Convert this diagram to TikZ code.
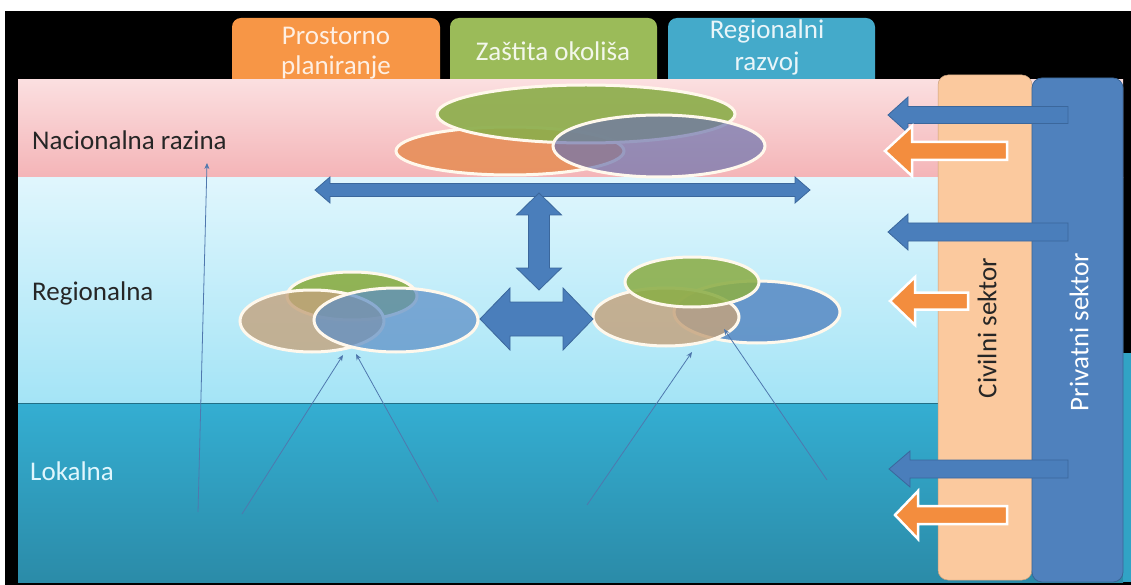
\documentclass[tikz,border=0pt]{standalone}
\usepackage{fontspec}
\setmainfont{Carlito}
\usetikzlibrary{shapes.geometric,arrows.meta}
\definecolor{boxorange}{HTML}{F79646}
\definecolor{boxgreen}{HTML}{9BBB59}
\definecolor{boxblue}{HTML}{44AACA}
\definecolor{pinktop}{HTML}{FBDFE0}
\definecolor{pinkbot}{HTML}{F4B4B7}
\definecolor{lbtop}{HTML}{E0F6FD}
\definecolor{lbbot}{HTML}{A4E4F6}
\definecolor{tealtop}{HTML}{34AED2}
\definecolor{tealbot}{HTML}{2B8BA8}
\definecolor{civil}{HTML}{FBC99E}
\definecolor{priv}{HTML}{4F81BD}
\definecolor{privline}{HTML}{3A6596}
\definecolor{barrow}{HTML}{4A7EBB}
\definecolor{barrowline}{HTML}{3B679C}
\definecolor{oarrow}{HTML}{F38D3E}
\definecolor{thin}{HTML}{4F78AE}
\definecolor{elline}{HTML}{FFF8EC}
\definecolor{natorange}{HTML}{E8915E}
\definecolor{natgreen}{HTML}{8DAE4C}
\definecolor{natpurple}{HTML}{6D74AE}
\definecolor{regtan}{HTML}{C4A27C}
\definecolor{reggreen}{HTML}{8CAE48}
\definecolor{regblue}{HTML}{5D8EC6}
\newcommand\secarrow[6]{% tipx headx tailx cy bodyhalf headhalf
  (#3,#4-#5) -- (#2,#4-#5) -- (#2,#4-#6) -- (#1,#4) -- (#2,#4+#6) -- (#2,#4+#5) -- (#3,#4+#5) -- cycle}
\begin{document}
\begin{tikzpicture}[x=1pt,y=-1pt,
  lbl/.style={font=\fontsize{27}{32}\selectfont, anchor=base west, inner sep=0pt},
  boxtxt/.style={font=\fontsize{27}{32}\selectfont, anchor=base, inner sep=0pt},
  ell/.style={ellipse, draw=elline, line width=3pt, inner sep=0pt},
  thinarrow/.style={draw=thin, line width=0.8pt, -{Stealth[length=6pt,width=5pt]}},
  bigarrow/.style={fill=barrow, draw=barrowline, line width=0.8pt, line join=miter},
  secblue/.style={fill=barrow, draw=barrowline, line width=0.8pt},
  secorange/.style={fill=oarrow, draw=white, line width=2.5pt, line join=miter}]
\useasboundingbox (0,0) rectangle (1131,585);
\fill[white] (0,0) rectangle (1131,585);
\fill[black] (5,11) rectangle (1131,585);
% top boxes
\fill[boxorange, rounded corners=9pt] (232,18) rectangle (440,110);
\fill[boxgreen, rounded corners=9pt] (450,18) rectangle (657,110);
\fill[boxblue, rounded corners=9pt] (668,18) rectangle (875,110);
\node[boxtxt, text=boxorange!15!white] (t1a) at (336,45) {Prostorno};
\node[boxtxt, text=boxorange!15!white] (t1b) at (336,75) {planiranje};
\node[boxtxt, text=boxgreen!12!white] (t2) at (553,61) {Zaštita okoliša};
\node[boxtxt, text=boxblue!12!white] (t3a) at (767,39) {Regionalni};
\node[boxtxt, text=boxblue!12!white] (t3b) at (767,71) {razvoj};
% bands
\shade[top color=pinktop, bottom color=pinkbot] (18,80) rectangle (1123,178);
\shade[top color=lbtop, bottom color=lbbot] (18,178) rectangle (1123,403);
\shade[top color=tealtop, bottom color=tealbot] (18,403) rectangle (1123,582);
\fill[tealtop!70!tealbot] (1123,353) rectangle (1131,582);
\draw[tealbot!80!black, line width=1pt] (18,403) -- (1123,403);
% level labels
\node[lbl, text=black!85] (lnat) at (32,150) {Nacionalna razina};
\node[lbl, text=black!85] (lreg) at (32,300) {Regionalna};
\node[lbl, text=lbtop] (llok) at (30,480) {Lokalna};
% national cluster
\node[ell, fill=natorange, fill opacity=0.95, minimum width=228pt, minimum height=48pt] (no) at (510,151) {};
\node[ell, fill=natgreen, fill opacity=0.92, minimum width=298pt, minimum height=58pt] (ng) at (586,114) {};
\node[ell, fill=natpurple, fill opacity=0.7, minimum width=212pt, minimum height=62pt] (np) at (659,146) {};
% regional cluster left
\node[ell, fill=reggreen, fill opacity=0.92, minimum width=130pt, minimum height=48pt] (lg) at (352,296) {};
\node[ell, fill=regtan, fill opacity=0.8, minimum width=144pt, minimum height=62pt] (lt) at (312,321) {};
\node[ell, fill=regblue, fill opacity=0.72, minimum width=164pt, minimum height=64pt] (lb) at (396,320) {};
% regional cluster right
\node[ell, fill=regblue, fill opacity=0.9, minimum width=166pt, minimum height=62pt] (rb) at (757,312) {};
\node[ell, fill=regtan, fill opacity=0.82, minimum width=146pt, minimum height=58pt] (rt) at (666,317) {};
\node[ell, fill=reggreen, fill opacity=0.88, minimum width=134pt, minimum height=50pt] (rg) at (692,282) {};
% big block arrows
\path[bigarrow] (315,190) -- (330,177) -- (330,183.5) -- (795,183.5) -- (795,177) -- (810,190)
  -- (795,203) -- (795,196.5) -- (330,196.5) -- (330,203) -- cycle;
\path[bigarrow] (539,193) -- (561.5,215) -- (549.5,215) -- (549.5,268) -- (561.5,268) -- (539,290)
  -- (516.5,268) -- (528.5,268) -- (528.5,215) -- (516.5,215) -- cycle;
\path[bigarrow] (480,319) -- (510,288) -- (510,302) -- (563,302) -- (563,288) -- (593,319)
  -- (563,350) -- (563,336) -- (510,336) -- (510,350) -- cycle;
% thin arrows
\coordinate (a1s) at (198,512); \coordinate (a1e) at (207,163);
\coordinate (a2s) at (242,514); \coordinate (a2e) at (343,355);
\coordinate (a3s) at (438,502); \coordinate (a3e) at (356,354);
\coordinate (a4s) at (587,505); \coordinate (a4e) at (692,352);
\coordinate (a5s) at (827,480); \coordinate (a5e) at (724,329);
\draw[thinarrow] (a1s) -- (a1e);
\draw[thinarrow] (a2s) -- (a2e);
\draw[thinarrow] (a3s) -- (a3e);
\draw[thinarrow] (a4s) -- (a4e);
\draw[thinarrow] (a5s) -- (a5e);
% sector boxes
\node[draw=civil!80!black, fill=civil, rounded corners=10pt, line width=0.5pt, minimum width=94pt, minimum height=505pt, inner sep=0pt] (civ) at (985,327.5) {};
\node[draw=privline, fill=priv, rounded corners=10pt, line width=0.8pt, minimum width=91pt, minimum height=504pt, inner sep=0pt] (pri) at (1077.5,330) {};
\node[rotate=90, font=\fontsize{27}{32}\selectfont, text=black!85, inner sep=0pt] (civt) at (987,328) {Civilni sektor};
\node[rotate=90, font=\fontsize{27}{32}\selectfont, text=white, inner sep=0pt] (prit) at (1079,332) {Privatni sektor};
% sector arrows
\path[secblue] \secarrow{888}{908}{1068}{115}{8.5}{18};
\path[secblue] \secarrow{888}{908}{1068}{232}{9}{18};
\path[secblue] \secarrow{889}{910}{1068}{469}{9}{18};
\path[secorange] \secarrow{885}{912}{1007}{151}{9}{25};
\path[secorange] \secarrow{890}{915}{968}{301}{8.5}{24};
\path[secorange] \secarrow{895}{918}{1007}{515}{9}{24};
\end{tikzpicture}
\end{document}
